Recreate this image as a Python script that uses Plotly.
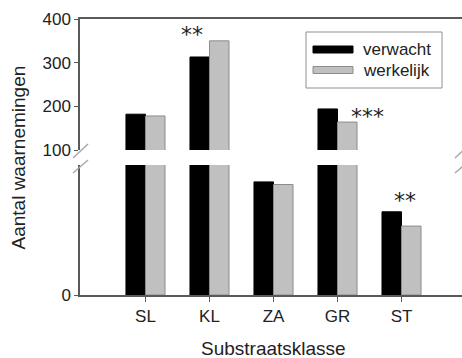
import plotly.graph_objects as go

categories = ["SL", "KL", "ZA", "GR", "ST"]
series_names = ["verwacht", "werkelijk"]
verwacht = [182, 313, 87, 194, 64]
werkelijk = [178, 350, 85, 164, 53]
significance = ["", "**", "", "***", "**"]
y_top_ticks = [100, 200, 300, 400]
y_bottom_ticks = [0]

W, H = 462, 358
L, R, T, B = 80, 0, 19, 63
PW, PH = W - L - R, H - T - B


def px(x):
    return (x - L) / PW


def py(y):
    return (H - B - y) / PH


BLACK = "#000000"
GREY = "#c0c0c0"
GREY_LINE = "#8c8c8c"
AXIS = "#5a5a5a"
TXT = "#222222"
FONT = "Liberation Sans, Arial, sans-serif"

fig = go.Figure()
for xa, ya in (("x", "y"), ("x2", "y2")):
    fig.add_trace(go.Bar(x=categories, y=verwacht, name=series_names[0], marker=dict(color=BLACK, line=dict(color=BLACK, width=1)),
                         xaxis=xa, yaxis=ya, showlegend=False))
    fig.add_trace(go.Bar(x=categories, y=werkelijk, name=series_names[1], marker=dict(color=GREY, line=dict(color=GREY_LINE, width=1)),
                         xaxis=xa, yaxis=ya, showlegend=False))

bottom_dom = [0, py(165)]
top_dom = [py(150), 1]
xr = [-1.023, 4.945]

fig.update_layout(
    width=W, height=H, margin=dict(l=L, r=R, t=T, b=B),
    paper_bgcolor="white", plot_bgcolor="white",
    barmode="group", bargap=0.39, bargroupgap=0,
    font=dict(family=FONT, size=17, color=TXT),
    xaxis=dict(domain=[0, 1], range=xr, anchor="y", showline=True, linecolor=AXIS, linewidth=1.5,
               ticks="outside", ticklen=5, tickcolor=AXIS, showgrid=False, zeroline=False,
               tickfont=dict(size=17, color=TXT)),
    xaxis2=dict(domain=[0, 1], range=xr, anchor="y2", matches="x", side="top", showline=True, linecolor=AXIS,
                linewidth=1.5, ticks="", showticklabels=False, showgrid=False, zeroline=False),
    yaxis=dict(domain=bottom_dom, range=[0, 100], anchor="x", showline=True, linecolor=AXIS, linewidth=1.5,
               ticks="outside", ticklen=4, tickcolor=AXIS, tickvals=y_bottom_ticks, showgrid=False, zeroline=False,
               tickfont=dict(size=17, color=TXT)),
    yaxis2=dict(domain=top_dom, range=[100, 400], anchor="x2", showline=True, linecolor=AXIS, linewidth=1.5,
                ticks="outside", ticklen=4, tickcolor=AXIS, tickvals=y_top_ticks, showgrid=False, zeroline=False,
                tickfont=dict(size=17, color=TXT)),
)

STAR_FONT = dict(size=22, family="DejaVu Sans", color=TXT)
# significance markers
for i, s in enumerate(significance):
    if not s:
        continue
    v, w = verwacht[i], werkelijk[i]
    if v > 100 or w > 100:
        if w < v:
            fig.add_annotation(x=categories[i], y=v, xref="x2", yref="y2", text=s, showarrow=False,
                               xshift=30, yshift=-8, font=STAR_FONT)
        else:
            fig.add_annotation(x=categories[i], y=max(v, w), xref="x2", yref="y2", text=s, showarrow=False,
                               xshift=-17, yshift=6, font=STAR_FONT)
    else:
        fig.add_annotation(x=categories[i], y=max(v, w), xref="x", yref="y", text=s, showarrow=False,
                           xshift=3, yshift=11, font=STAR_FONT)

# axis titles
fig.add_annotation(x=px(18), y=py(157.5), xref="paper", yref="paper", text="Aantal waarnemingen",
                   textangle=-90, showarrow=False, xanchor="center", yanchor="middle",
                   font=dict(size=19, color=TXT))
fig.add_annotation(x=px(273.5), y=py(348), xref="paper", yref="paper", text="Substraatsklasse",
                   showarrow=False, xanchor="center", yanchor="middle", font=dict(size=19, color=TXT))

# axis break marks
for (x0, y0, x1, y1) in [(73, 158, 88, 144), (73, 173, 88, 160), (455, 158, 470, 144), (455, 173, 470, 160)]:
    fig.add_shape(type="line", xref="paper", yref="paper", x0=px(x0), y0=py(y0), x1=px(x1), y1=py(y1),
                  line=dict(color="#a8a8a8", width=1.5))

# legend
fig.add_shape(type="rect", xref="paper", yref="paper", x0=px(306), x1=px(442), y0=py(88), y1=py(32),
              line=dict(color="#909090", width=1), fillcolor="white")
legend_items = [(series_names[0], BLACK, BLACK, 49.5), (series_names[1], GREY, GREY_LINE, 70)]
for name, fc, lc, yc in legend_items:
    fig.add_shape(type="rect", xref="paper", yref="paper", x0=px(313), x1=px(353), y0=py(yc + 3.5), y1=py(yc - 3.5),
                  line=dict(color=lc, width=1), fillcolor=fc)
    fig.add_annotation(x=px(361), y=py(yc), xref="paper", yref="paper", text=name, showarrow=False,
                       xanchor="left", yanchor="middle", font=dict(size=17, color=TXT))

fig.write_html("out.html")
